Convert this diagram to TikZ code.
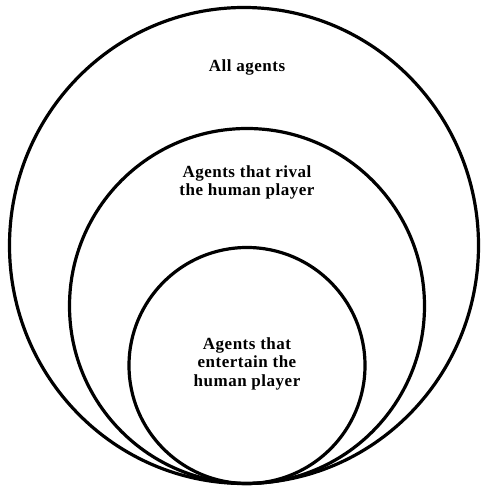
\documentclass[tikz,border=0pt]{standalone}
\usepackage{fontspec}
\setmainfont{Liberation Serif}
\newfontfamily\widefont{Liberation Serif}[LetterSpace=3]
\usetikzlibrary{shapes.geometric}
\usetikzlibrary{positioning}
\tikzstyle{ring} = [ellipse, draw=black, line width=3.2pt, inner sep=0pt]
\tikzstyle{groupname} = [align=center, font=\widefont\bfseries\fontsize{17}{18.5}\selectfont]

\begin{document}
\begin{tikzpicture}[x=1pt, y=1pt]
        \useasboundingbox (0,0) rectangle (481,487);
        \node (all) [ring, minimum width=469pt, minimum height=476pt] at (244,241.5) {};
        \node (rival) [ring, minimum size=355pt] at (247,181) {};
        \node (entertain) [ring, minimum size=236pt] at (247,121.5) {};

        \node (allText) [groupname] at (247,420) {All agents};
        \node (rivalText) [groupname] at (247,304.5) {Agents that rival\\ the human player};
        \node (entertainText) [groupname] at (247,123.5) {Agents that\\ entertain the\\ human player};
\end{tikzpicture}
\end{document}
